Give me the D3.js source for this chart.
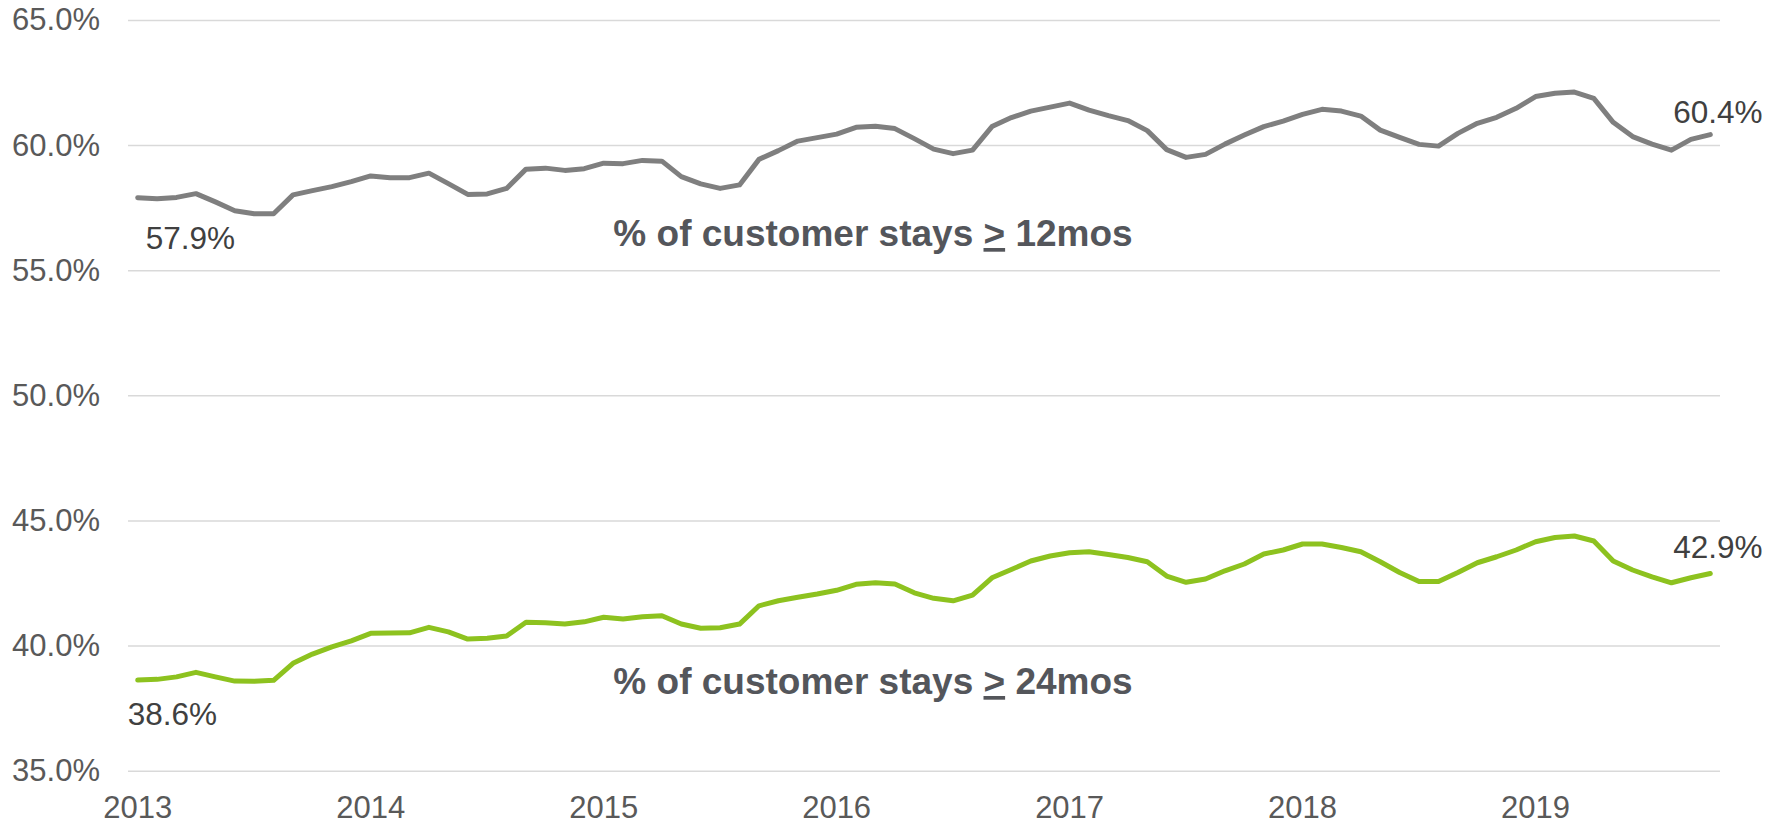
<!DOCTYPE html>
<html>
<head>
<meta charset="utf-8">
<script src="https://cdn.jsdelivr.net/npm/d3@7"></script>
<style>
  html, body { margin: 0; padding: 0; background: #fff; }
  svg { display: block; }
  text { font-family: "Liberation Sans", Arial, sans-serif; }
</style>
</head>
<body>
<svg id="chart" width="1781" height="825"></svg>
<script>
// ---- Data (monthly, Jan 2013 – Oct 2019) ----
const yearLabels = ["2013", "2014", "2015", "2016", "2017", "2018", "2019"];
const stays12 = [
  57.90, 57.86, 57.91, 58.06, 57.73, 57.38, 57.26, 57.26, 58.01, 58.18, 58.34, 58.54,
  58.77, 58.70, 58.70, 58.88, 58.46, 58.03, 58.05, 58.27, 59.04, 59.08, 58.99, 59.06,
  59.28, 59.26, 59.39, 59.36, 58.74, 58.45, 58.27, 58.41, 59.43, 59.78, 60.16, 60.30,
  60.44, 60.71, 60.75, 60.66, 60.26, 59.84, 59.66, 59.80, 60.74, 61.10, 61.36, 61.52,
  61.68, 61.40, 61.18, 60.98, 60.58, 59.82, 59.51, 59.63, 60.04, 60.40, 60.74, 60.96,
  61.23, 61.43, 61.36, 61.16, 60.60, 60.31, 60.03, 59.96, 60.47, 60.87, 61.11, 61.47,
  61.94, 62.07, 62.12, 61.87, 60.91, 60.34, 60.04, 59.80, 60.23, 60.42
];
const stays24 = [
  38.62, 38.65, 38.75, 38.93, 38.75, 38.58, 38.57, 38.61, 39.29, 39.66, 39.95, 40.19,
  40.49, 40.50, 40.51, 40.73, 40.55, 40.26, 40.29, 40.38, 40.93, 40.91, 40.86, 40.95,
  41.13, 41.06, 41.15, 41.19, 40.86, 40.69, 40.71, 40.86, 41.59, 41.79, 41.93, 42.06,
  42.21, 42.45, 42.51, 42.46, 42.11, 41.89, 41.79, 42.02, 42.71, 43.04, 43.38, 43.58,
  43.71, 43.75, 43.64, 43.52, 43.35, 42.78, 42.53, 42.66, 42.99, 43.26, 43.66, 43.82,
  44.06, 44.06, 43.92, 43.75, 43.35, 42.92, 42.56, 42.56, 42.92, 43.31, 43.55, 43.82,
  44.15, 44.32, 44.38, 44.18, 43.38, 43.02, 42.75, 42.51, 42.71, 42.88
];
const yTicks = [35, 40, 45, 50, 55, 60, 65];
const seriesNames = ["% of customer stays ", " 12mos", " 24mos"];
const startLabels = ["57.9%", "38.6%"];
const endLabels = ["60.4%", "42.9%"];

// ---- Layout ----
const svg = d3.select("#chart");
const plotLeft = 128, plotRight = 1720, plotTop = 20, plotBottom = 770.7;
const n = stays12.length;

const x = d3.scaleBand()
  .domain(d3.range(n))
  .range([plotLeft, plotRight])
  .padding(0);
const xc = i => x(i) + x.bandwidth() / 2;

const y = d3.scaleLinear()
  .domain([35, 65])
  .range([plotBottom, plotTop]);

const gray = "#7f7f7f";
const green = "#8dc21f";
const tickColor = "#595959";
const labelColor = "#404040";
const titleColor = "#54565b";

// Gridlines + y-axis labels
const yAxis = d3.axisLeft(y)
  .tickValues(yTicks)
  .tickSize(-(plotRight - plotLeft))
  .tickPadding(28)
  .tickFormat(d => d3.format(".1f")(d) + "%");

const gy = svg.append("g")
  .attr("transform", `translate(${plotLeft},0)`)
  .call(yAxis);
gy.select(".domain").remove();
gy.selectAll(".tick line").attr("stroke", "#d9d9d9").attr("stroke-width", 1.5);
gy.selectAll(".tick text")
  .attr("fill", tickColor)
  .attr("font-size", 31)
  .attr("font-family", "'Liberation Sans', Arial, sans-serif");

// X-axis labels (first month of each year)
const yearIdx = yearLabels.map((_, k) => k * 12);
const xAxis = d3.axisBottom(x)
  .tickValues(yearIdx)
  .tickSize(0)
  .tickPadding(25)
  .tickFormat((d) => yearLabels[d / 12]);
const gx = svg.append("g")
  .attr("transform", `translate(0,${plotBottom})`)
  .call(xAxis);
gx.select(".domain").remove();
gx.selectAll(".tick text")
  .attr("fill", tickColor)
  .attr("font-size", 31)
  .attr("font-family", "'Liberation Sans', Arial, sans-serif");

// Lines
const line = d3.line()
  .x((d, i) => xc(i))
  .y(d => y(d));

svg.append("path")
  .datum(stays12)
  .attr("fill", "none")
  .attr("stroke", gray)
  .attr("stroke-width", 5)
  .attr("stroke-linejoin", "round")
  .attr("stroke-linecap", "round")
  .attr("d", line);

svg.append("path")
  .datum(stays24)
  .attr("fill", "none")
  .attr("stroke", green)
  .attr("stroke-width", 5)
  .attr("stroke-linejoin", "round")
  .attr("stroke-linecap", "round")
  .attr("d", line);

// Data labels
function label(txt, xPos, yPos) {
  svg.append("text")
    .attr("x", xPos)
    .attr("y", yPos)
    .attr("fill", labelColor)
    .attr("font-size", 31.5)
    .text(txt);
}
label(startLabels[0], xc(0) + 8, y(stays12[0]) + 51);
label(startLabels[1], xc(0) - 10, y(stays24[0]) + 45);
label(endLabels[0], xc(n - 1) - 37, y(stays12[n - 1]) - 12);
label(endLabels[1], xc(n - 1) - 37, y(stays24[n - 1]) - 16);

// Series titles
function title(suffix, yPos) {
  const t = svg.append("text")
    .attr("x", 873)
    .attr("y", yPos)
    .attr("text-anchor", "middle")
    .attr("fill", titleColor)
    .attr("font-size", 37)
    .attr("font-weight", "bold");
  t.append("tspan").text(seriesNames[0]);
  t.append("tspan").style("text-decoration", "underline").text(">");
  t.append("tspan").text(suffix);
}
title(seriesNames[1], 246);
title(seriesNames[2], 694);
</script>
</body>
</html>
